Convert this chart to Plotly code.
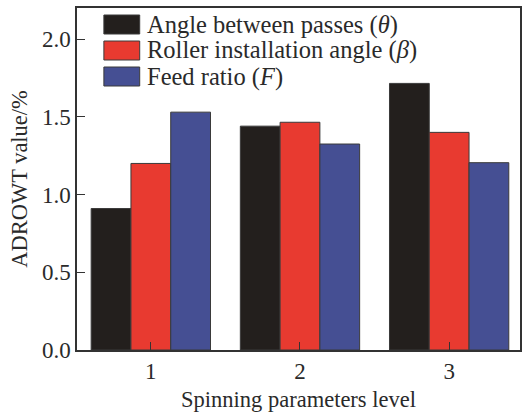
import plotly.graph_objects as go

# Spinning parameter levels and ADROWT values (%) per factor
levels = [1, 2, 3]
series_names = [
    "Angle between passes (<i>θ</i>)",
    "Roller installation angle (<i>β</i>)",
    "Feed ratio (<i>F</i>)",
]
theta_vals = [0.91, 1.44, 1.715]
beta_vals = [1.20, 1.465, 1.40]
feed_vals = [1.53, 1.325, 1.205]
series_colors = ["#231f1d", "#e83a30", "#454f93"]

FONT = "Liberation Serif, Times New Roman, serif"
FS = 22.5
FS_LEG = 24.5
FS_TICK = 23
TXT = "#2a2a2a"
W, H = 523, 416
ML, MR, MT, MB = 77, 1, 8, 66

fig = go.Figure()
for name, vals, color in zip(series_names, [theta_vals, beta_vals, feed_vals], series_colors):
    fig.add_trace(go.Bar(
        x=levels, y=vals, name=name,
        marker=dict(color=color, line=dict(color="#3a3a3a", width=1)),
        showlegend=False,
    ))

# Legend drawn as large swatches with labels in the upper-left corner
pw, ph = W - ML - MR, H - MT - MB
def px_x(px):
    return (px - ML) / pw
def px_y(py):
    return (H - MB - py) / ph

shapes = []
annotations = []
for i, (name, color) in enumerate(zip(series_names, series_colors)):
    top = 15 + i * 26
    shapes.append(dict(
        type="rect", xref="paper", yref="paper",
        x0=px_x(104), x1=px_x(140), y0=px_y(top + 19), y1=px_y(top),
        fillcolor=color, line=dict(color="#3a3a3a", width=1),
    ))
    annotations.append(dict(
        xref="paper", yref="paper", x=px_x(145), y=px_y(top + 9.5),
        xanchor="left", yanchor="middle", text=name, showarrow=False,
        font=dict(family=FONT, size=FS_LEG, color=TXT),
    ))

fig.update_layout(
    width=W, height=H,
    margin=dict(l=ML, r=MR, t=MT, b=MB),
    paper_bgcolor="white", plot_bgcolor="white",
    barmode="group", bargap=0.2, bargroupgap=0,
    font=dict(family=FONT, size=FS, color=TXT),
    shapes=shapes, annotations=annotations,
    xaxis=dict(
        range=[0.505, 3.475], tickvals=levels, ticktext=[str(v) for v in levels],
        ticks="inside", ticklen=8, tickcolor="#333", tickwidth=1,
        showline=True, linecolor="#333", linewidth=1.5, mirror=True,
        showgrid=False, zeroline=False,
        title=dict(text="Spinning parameters level", standoff=8, font=dict(size=FS)),
        tickfont=dict(size=FS_TICK),
    ),
    yaxis=dict(
        range=[0, 2.2], tickvals=[0, 0.5, 1.0, 1.5, 2.0], tickformat=".1f",
        ticks="inside", ticklen=8, tickcolor="#333", tickwidth=1,
        showline=True, linecolor="#333", linewidth=1.5, mirror=True,
        showgrid=False, zeroline=False,
        title=dict(text="ADROWT value/%", standoff=8, font=dict(size=FS)),
        tickfont=dict(size=FS_TICK),
    ),
)

fig.write_html("out.html")
